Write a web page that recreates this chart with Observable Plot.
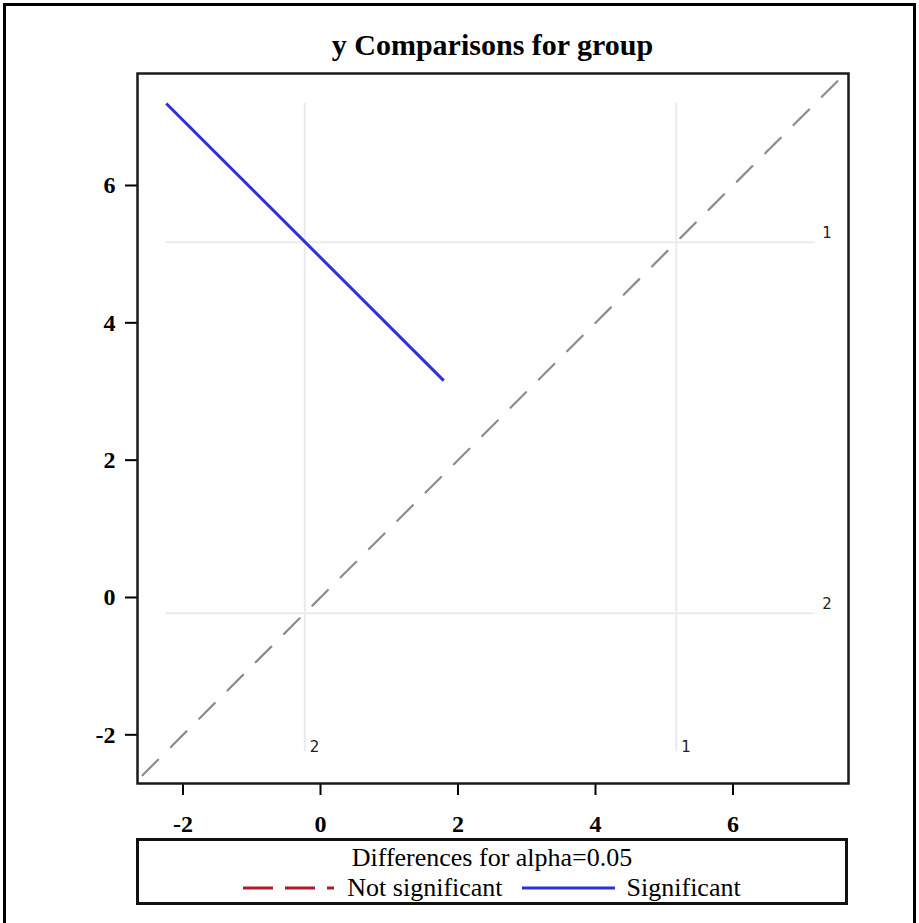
<!DOCTYPE html>
<html>
<head>
<meta charset="utf-8">
<script src="https://cdn.jsdelivr.net/npm/d3@7"></script>
<script src="https://cdn.jsdelivr.net/npm/@observablehq/plot@0.6"></script>
<style>
  html, body { margin: 0; padding: 0; background: #fff; }
  #page { position: relative; width: 919px; height: 923px; overflow: hidden; background: #fff; }
  #outer { position: absolute; left: 3px; top: 3px; width: 913px; height: 960px; border: 3px solid #000; box-sizing: border-box; }
  #title { position: absolute; left: 137px; width: 711px; top: 29px; text-align: center;
           font-family: "Liberation Serif", serif; font-weight: bold; font-size: 30px; line-height: 32px; color: #000; }
  #chart { position: absolute; left: 0; top: 60px; }
  #legend { position: absolute; left: 136px; top: 838px; width: 712px; height: 67px; box-sizing: border-box;
            border: 3px solid #111; padding-top: 2px;
            font-family: "Liberation Serif", serif; font-size: 26px; line-height: 30px; color: #000; }
  #legend .ttl { text-align: center; }
  #legend .row { display: flex; justify-content: center; align-items: center; height: 30px; }
  #legend svg { display: block; }
</style>
</head>
<body>
<div id="page">
  <div id="outer"></div>
  <div id="title"></div>
  <div id="chart"></div>
  <div id="legend"></div>
</div>
<script>
// ---- data ----
const titleText = "y Comparisons for group";
const groups = ["1", "2"];
const groupMeans = [5.175, -0.228];
const pairLabel = ["2 vs 1"];
const pairX1 = [-2.244];   // upper-left end (x)
const pairY1 = [7.195];
const pairX2 = [1.793];
const pairY2 = [3.159];
const pairSignificant = [true];
const refExtent = [-2.245, 7.195];
const xDomain = [-2.662, 7.68];
const yDomain = [-2.709, 7.631];
const xTicks = [-2, 0, 2, 4, 6];
const yTicks = [-2, 0, 2, 4, 6];
const diagonalEnds = [-3, 8];
const legendTitle = "Differences for alpha=0.05";
const legendLabels = ["Not significant", "Significant"];

// ---- styles ----
const blue = "#2f2fe0";
const red = "#b2182b";
const serif = "Liberation Serif, serif";

const means = groups.map((g, i) => ({group: g, mean: groupMeans[i]}));
const pairs = pairLabel.map((p, i) => ({pair: p, x1: pairX1[i], y1: pairY1[i], x2: pairX2[i], y2: pairY2[i], sig: pairSignificant[i]}));
const diag = diagonalEnds.map(v => ({v}));

document.getElementById("title").textContent = titleText;

const chart = Plot.plot({
  width: 919,
  height: 778,
  marginLeft: 137,
  marginRight: 71,
  marginTop: 13,
  marginBottom: 55,
  style: {fontFamily: serif, fontSize: "24px", background: "transparent", overflow: "visible"},
  x: {domain: xDomain},
  y: {domain: yDomain},
  marks: [
    Plot.ruleY(means, {y: "mean", x1: refExtent[0], x2: refExtent[1], stroke: "#ebebeb", strokeWidth: 2}),
    Plot.ruleX(means, {x: "mean", y1: refExtent[0], y2: refExtent[1], stroke: "#ebebeb", strokeWidth: 2}),
    Plot.text(means, {x: refExtent[1], y: "mean", text: "group", textAnchor: "start", lineAnchor: "bottom",
      dx: 7, dy: -4, fontFamily: "DejaVu Sans", fontSize: 15, fill: "#222"}),
    Plot.text(means, {x: "mean", y: refExtent[0], text: "group", textAnchor: "start", lineAnchor: "bottom",
      dx: 5, dy: 0, fontFamily: "DejaVu Sans", fontSize: 15, fill: "#222"}),
    Plot.line(diag, {x: "v", y: "v", stroke: "#8c8c8c", strokeWidth: 2.2, strokeDasharray: "22,18", clip: true}),
    Plot.link(pairs, {x1: "x1", y1: "y1", x2: "x2", y2: "y2", stroke: d => d.sig ? blue : red,
      strokeWidth: 3, strokeDasharray: d => d.sig ? null : "30,12"}),
    Plot.axisX({ticks: xTicks, tickSize: 12, tickPadding: 19, tickFormat: d => String(d),
      fontSize: 24, fontWeight: "bold", fontFamily: serif, stroke: "#000", strokeWidth: 2, fill: "#000"}),
    Plot.axisY({ticks: yTicks, tickSize: 12, tickPadding: 10, tickFormat: d => String(d),
      fontSize: 24, fontWeight: "bold", fontFamily: serif, stroke: "#000", strokeWidth: 2, fill: "#000"}),
    Plot.frame({stroke: "#1a1a1a", strokeWidth: 2.5})
  ]
});
document.getElementById("chart").appendChild(chart);

// ---- legend ----
const leg = document.getElementById("legend");
const lt = document.createElement("div");
lt.className = "ttl";
lt.textContent = legendTitle;
leg.appendChild(lt);
const row = document.createElement("div");
row.className = "row";
function sample(color, dash, w, ml, mr) {
  const s = d3.create("svg").attr("width", w).attr("height", 10)
    .style("margin-left", ml + "px").style("margin-right", mr + "px");
  s.append("line").attr("x1", 0).attr("x2", w).attr("y1", 5).attr("y2", 5)
    .attr("stroke", color).attr("stroke-width", 3.2).attr("stroke-dasharray", dash);
  return s.node();
}
function label(t, mr) {
  const sp = document.createElement("span");
  sp.textContent = t;
  sp.style.marginRight = mr + "px";
  return sp;
}
row.appendChild(sample(red, "30,12", 91, 0, 13));
row.appendChild(label(legendLabels[0], 19));
row.appendChild(sample(blue, null, 93, 0, 12));
row.appendChild(label(legendLabels[1], 0));
leg.appendChild(row);
</script>
</body>
</html>
